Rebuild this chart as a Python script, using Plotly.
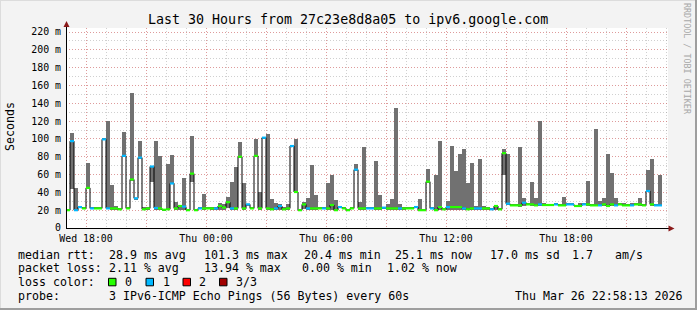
import datetime as dt
import plotly.graph_objects as go

# ---------------- data ----------------
T0 = dt.datetime(2026, 3, 25, 17, 0)
STEP_MIN = 12

median = [20, 97.5, 20, 23.5, 22, 45, 22, 22, 22, 99.5,
          22, 22, 22, 21, 81, 22, 54.5, 33.3, 79, 21,
          22, 69, 22.5, 22, 20.5, 21, 50, 22, 24.7, 24,
          20, 61, 20, 22, 22, 22, 22, 22, 24.7, 23,
          29, 22, 22, 80, 22, 26.5, 22, 81, 22, 101.4,
          22, 21, 22, 24.7, 21, 22, 92, 40.4, 20, 26.5,
          22, 22, 22, 22, 22, 22, 25.8, 20, 23.5, 22,
          20, 22, 65.5, 22, 22, 22, 22, 22, 22, 22.8,
          22, 22, 22, 22, 22, 22, 22, 23.5, 20, 20,
          52, 22, 20, 23.5, 21, 23.5, 23.5, 23.5, 23.5, 22,
          21, 22, 22, 22, 22, 22, 21, 24.7, 21, 84,
          27.3, 25.4, 25.4, 25.4, 28.4, 26.5, 26.5, 25.4, 26.5, 25.8,
          25.8, 25.8, 26.5, 25.4, 25.4, 26.5, 26.5, 24.7, 24.7, 26.5,
          26.5, 25.4, 25.4, 25.4, 26.5, 24.7, 26.5, 25.4, 26.5, 25.4,
          25.4, 25.4, 26.5, 26.5, 25.4, 41.5, 26.5, 25.4, 25.4]
low = [19.5, 44, 20, 23, 21.5, 44, 21.5, 21.5, 21.5, 99,
       22, 20, 20.5, 20.5, 80, 21.5, 53, 32.5, 78, 20.5,
       20.5, 52, 20.5, 20.5, 20, 20, 49, 20.5, 20.5, 20.5,
       19.5, 52, 19.5, 21.5, 20.5, 21.5, 20.5, 20.5, 20.5, 20.5,
       22, 20.5, 20.5, 79, 20.5, 25.5, 21.5, 80, 20.5, 100.5,
       20.5, 20.5, 20.5, 20.5, 20.5, 20.5, 91, 40, 19.5, 21,
       20.5, 20.5, 20.5, 21.5, 21.5, 20.5, 20.5, 19.5, 23, 21.5,
       19.5, 21.5, 64, 20.5, 20.5, 21.5, 21.5, 20.5, 20.5, 22,
       20.5, 20.5, 20.5, 20.5, 20.5, 21.5, 21.5, 23, 19.5, 19.5,
       51, 21.5, 19.5, 20.5, 20.5, 20.5, 20.5, 20.5, 20.5, 20.5,
       20.5, 20.5, 20.5, 20.5, 20.5, 20.5, 20.5, 20.5, 20.5, 59,
       26, 25, 25, 24, 25, 26, 25, 25, 25, 25,
       25.5, 25.5, 26, 25, 25, 26, 26, 24.5, 24.5, 26,
       25, 25, 25, 25, 25, 24.5, 25, 25, 26, 25,
       25, 25, 26, 25, 25, 40, 25, 25, 25]
high = [20.5, 107, 45, 24, 22.5, 73, 22.5, 22.5, 22.5, 100.5,
        120.5, 48.5, 25, 22, 108, 22.5, 151, 34, 98, 24,
        24, 70, 98, 81, 21, 72, 82.5, 29.5, 26, 55.6,
        20.5, 103.6, 20.5, 22.5, 37.8, 22.5, 24, 24, 28.4, 27,
        35, 52, 69, 96, 51, 27.5, 22.5, 99.5, 40.5, 102.5,
        105, 33, 28.4, 26.5, 24, 26.5, 93, 99.5, 20.5, 29,
        34, 70.7, 36.7, 22.5, 22.5, 51, 59, 31.8, 24, 22.5,
        20.5, 22.5, 72, 29.5, 91, 22.5, 22.5, 75.6, 37.4, 23.5,
        26.5, 33, 135, 26.5, 24, 22.5, 22.5, 24, 33, 20.5,
        66, 22.5, 60, 98, 21.5, 30.3, 91.5, 64.4, 82.7, 88.3,
        51, 73.3, 24.7, 77, 24.7, 23.5, 21.5, 25.5, 21.5, 88.3,
        82.7, 26, 26, 91, 34, 27, 52, 34, 120, 27.7,
        26.2, 26.2, 27, 26, 35, 28, 27, 25, 28.4, 27,
        52.7, 26, 111.5, 30.3, 34, 83, 62, 34, 27, 28.4,
        27, 28.4, 27, 34, 26, 64.7, 78, 26, 59]
loss = [0, 1, 1, 1, 0, 0, 1, 0, 0, 1,
        1, 0, 0, 0, 1, 0, 0, 1, 1, 0,
        0, 1, 1, 0, 0, 0, 1, 0, 0, 1,
        0, 0, 0, 1, 0, 0, 0, 1, 0, 0,
        0, 1, 0, 0, 0, 1, 0, 0, 0, 1,
        0, 0, 1, 1, 0, 0, 1, 0, 0, 0,
        1, 0, 0, 0, 1, 0, 0, 0, 1, 0,
        0, 0, 1, 0, 0, 1, 1, 0, 0, 1,
        0, 0, 0, 1, 0, 0, 0, 1, 0, 0,
        0, 1, 0, 0, 0, 1, 0, 0, 0, 1,
        0, 0, 1, 1, 0, 0, 1, 0, 0, 0,
        1, 0, 0, 0, 1, 0, 0, 0, 1, 0,
        0, 0, 1, 0, 0, 1, 1, 0, 0, 1,
        0, 0, 0, 1, 0, 0, 0, 1, 0, 0,
        0, 1, 0, 0, 0, 1, 0, 1, 1]

loss_labels = ["0", "1", "2", "3/3"]
loss_colors = ["#26ff00", "#00b8ff", "#ff0000", "#a10000"]

x_tick_times = ["2026-03-25 18:00", "2026-03-25 21:00", "2026-03-26 00:00", "2026-03-26 03:00",
                "2026-03-26 06:00", "2026-03-26 09:00", "2026-03-26 12:00", "2026-03-26 15:00",
                "2026-03-26 18:00", "2026-03-26 21:00"]
x_tick_text = ["Wed 18:00", "", "Thu 00:00", "", "Thu 06:00", "", "Thu 12:00", "", "Thu 18:00", ""]
y_tick_vals = [0, 20, 40, 60, 80, 100, 120, 140, 160, 180, 200, 220]
y_tick_text = ["0"] + [f"{v} m" for v in y_tick_vals[1:]]

title = "Last 30 Hours from 27c23e8d8a05 to ipv6.google.com"
legend_rows = [
    [(16.3, "median rtt:"), (107.3, "28.9 ms avg"), (201.7, "101.3 ms max"), (301.7, "20.4 ms min"),
     (393.3, "25.1 ms now"), (488.3, "17.0 ms sd"), (569.5, "1.7"), (613.3, "am/s")],
    [(16.3, "packet loss:"), (107.3, "2.11 % avg"), (201.7, "13.94 % max"), (300.0, "0.00 % min"),
     (384.5, "1.02 % now")],
    [(16.3, "loss color:")],
    [(16.3, "probe:"), (107.3, "3 IPv6-ICMP Echo Pings (56 Bytes) every 60s"),
     (513.0, "Thu Mar 26 22:58:13 2026")],
]
legend_row_y = [254.7, 268.3, 282.3, 296.0]

# ---------------- geometry ----------------
W, H = 697, 310
L, R, T, B = 66, 668, 28, 228
MONO = "DejaVu Sans Mono"


def px(x):
    return (x - L) / (R - L)


def py(y):
    return (B - y) / (B - T)


step = dt.timedelta(minutes=STEP_MIN)
starts = [T0 + step * k for k in range(len(median))]
centers = [s + step / 2 for s in starts]
x_end = T0 + dt.timedelta(minutes=3 * (R - L))

fig = go.Figure()

# smoke
fig.add_trace(go.Bar(
    x=centers, y=[h - l for h, l in zip(high, low)], base=low,
    width=STEP_MIN * 60 * 1000, marker=dict(color="#717171", line=dict(width=0)),
    hoverinfo="skip", showlegend=False))

# median step line (black)
fig.add_trace(go.Scatter(
    x=starts + [starts[-1] + step], y=median + [median[-1]], mode="lines",
    line=dict(color="#000000", width=1, shape="hv"), hoverinfo="skip", showlegend=False))

# colored median segments by loss
for lvl, col in enumerate(loss_colors):
    xs, ys = [], []
    for s, m, ls in zip(starts, median, loss):
        if ls == lvl:
            xs += [s, s + step, None]
            ys += [m, m, None]
    if xs:
        fig.add_trace(go.Scatter(x=xs, y=ys, mode="lines",
                                 line=dict(color=col, width=2.2),
                                 hoverinfo="skip", showlegend=False))

shapes = []
# frame
shapes.append(dict(type="line", xref="paper", yref="paper", x0=px(0), x1=px(W), y0=py(0.5), y1=py(0.5),
                   line=dict(color="#dcdcdc", width=1)))
shapes.append(dict(type="line", xref="paper", yref="paper", x0=px(0.5), x1=px(0.5), y0=py(0), y1=py(H),
                   line=dict(color="#dcdcdc", width=1)))
shapes.append(dict(type="rect", xref="paper", yref="paper", x0=px(0), x1=px(W), y0=py(H), y1=py(H - 2),
                   line=dict(width=0), fillcolor="#9e9e9e"))
shapes.append(dict(type="rect", xref="paper", yref="paper", x0=px(W - 2), x1=px(W), y0=py(H), y1=py(0),
                   line=dict(width=0), fillcolor="#9e9e9e"))
# axes lines and arrows
shapes.append(dict(type="line", xref="paper", yref="paper", x0=px(66.5), x1=px(66.5), y0=py(228.5), y1=py(24),
                   line=dict(color="#000000", width=1)))
shapes.append(dict(type="line", xref="paper", yref="paper", x0=px(66), x1=px(670), y0=py(228.5), y1=py(228.5),
                   line=dict(color="#000000", width=1)))
shapes.append(dict(type="path", xref="paper", yref="paper",
                   path=f"M {px(63.5)},{py(27)} L {px(69.5)},{py(27)} L {px(66.5)},{py(21)} Z",
                   fillcolor="#8b1a1a", line=dict(width=0)))
shapes.append(dict(type="path", xref="paper", yref="paper",
                   path=f"M {px(668.5)},{py(225.5)} L {px(668.5)},{py(231.5)} L {px(674.5)},{py(228.5)} Z",
                   fillcolor="#8b1a1a", line=dict(width=0)))
# loss color boxes
box_x = [108.5, 146.0, 183.0, 219.5]
label_x = [123.3, 161.0, 197.3, 234.3]
for bx, col in zip(box_x, loss_colors):
    shapes.append(dict(type="rect", xref="paper", yref="paper", x0=px(bx), x1=px(bx + 7.5),
                       y0=py(285.8), y1=py(278.3), fillcolor=col, line=dict(color="#000000", width=1)))

ann = []
ann.append(dict(text=title, x=px(347.5), y=py(19), xref="paper", yref="paper", showarrow=False,
                xanchor="center", yanchor="middle", font=dict(family=MONO, size=13.3, color="#000")))
ann.append(dict(text="Seconds", x=px(10), y=py(127), xref="paper", yref="paper", showarrow=False,
                textangle=-90, xanchor="center", yanchor="middle", font=dict(family=MONO, size=11.6, color="#000")))
ann.append(dict(text="RRDTOOL / TOBI OETIKER", x=px(687), y=py(59), xref="paper", yref="paper", showarrow=False,
                textangle=90, xanchor="center", yanchor="middle", font=dict(family=MONO, size=8.4, color="#a8a8a8")))
for row, yy in zip(legend_rows, legend_row_y):
    for xx, txt in row:
        ann.append(dict(text=txt, x=px(xx), y=py(yy), xref="paper", yref="paper", showarrow=False,
                        xanchor="left", yanchor="middle", font=dict(family=MONO, size=11.6, color="#000")))
for lx, lab in zip(label_x, loss_labels):
    ann.append(dict(text=lab, x=px(lx), y=py(legend_row_y[2]), xref="paper", yref="paper", showarrow=False,
                    xanchor="left", yanchor="middle", font=dict(family=MONO, size=11.6, color="#000")))

MAJ = "rgba(240,90,90,0.45)"
MIN = "rgba(150,150,150,0.45)"
fig.update_layout(
    width=W, height=H, margin=dict(l=L, r=W - R, t=T, b=H - B, pad=0),
    paper_bgcolor="#f3f3f3", plot_bgcolor="#ffffff", bargap=0, showlegend=False,
    shapes=shapes, annotations=ann,
    xaxis=dict(type="date", range=[T0, x_end], tickmode="array", tickvals=x_tick_times, ticktext=x_tick_text,
               showgrid=True, gridcolor=MAJ, griddash="1px,2px", gridwidth=1,
               minor=dict(showgrid=True, gridcolor=MIN, griddash="1px,2px", gridwidth=1,
                          tick0="2026-03-25 18:00", dtick=3600000),
               showline=False, zeroline=False, ticks="", ticklabelstandoff=3,
               tickfont=dict(family=MONO, size=9.9, color="#000"), fixedrange=True),
    yaxis=dict(range=[0, 224.5], tickmode="array", tickvals=y_tick_vals, ticktext=y_tick_text,
               showgrid=True, gridcolor=MAJ, griddash="1px,2px", gridwidth=1,
               minor=dict(showgrid=True, gridcolor=MIN, griddash="1px,2px", gridwidth=1, tick0=0, dtick=10),
               showline=False, zeroline=False, ticks="", ticklabelstandoff=4,
               tickfont=dict(family=MONO, size=9.9, color="#000"), fixedrange=True),
)

fig.write_html("out.html")
